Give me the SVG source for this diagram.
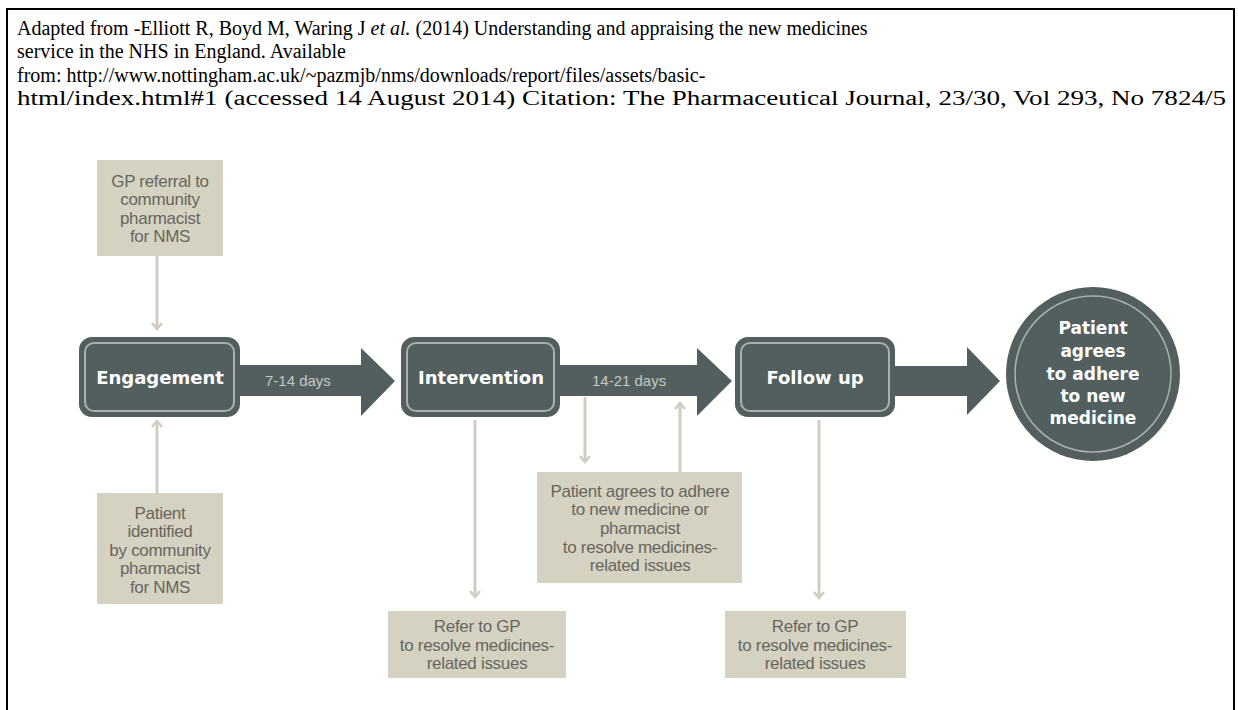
<svg xmlns="http://www.w3.org/2000/svg" width="1238" height="710" viewBox="0 0 1238 710">
<defs>
<style>
.cite{font-family:"Liberation Serif","Times New Roman",serif;font-size:20px;fill:#000}
.stage{fill:#535f5f}
.inner{fill:none;stroke:#a9b0ae;stroke-width:2}
.big{font-family:"DejaVu Sans",sans-serif;font-weight:bold;font-size:18px;fill:#fff;text-anchor:middle}
.circ{font-family:"DejaVu Sans",sans-serif;font-weight:bold;font-size:17px;fill:#fff;text-anchor:middle}
.note{fill:#d6d2c2}
.nt{font-family:"Liberation Sans",Arial,sans-serif;font-size:17px;fill:#66665e;text-anchor:middle;letter-spacing:-0.3px}
.days{font-family:"Liberation Sans",Arial,sans-serif;font-size:15px;fill:#c3c8c7}
.conn{fill:none;stroke:#cfcdc0;stroke-width:3}
.arr{fill:#535f5f}
</style>
<marker id="chev" viewBox="0 0 10 12" refX="8" refY="6" markerWidth="10" markerHeight="12" markerUnits="userSpaceOnUse" orient="auto-start-reverse">
<path d="M2,1 L8,6 L2,11" fill="none" stroke="#cfcdc0" stroke-width="2.5"/>
</marker>
</defs>
<rect width="1238" height="710" fill="#fff"/>
<path d="M7,720 V9 H1234 V720" fill="none" stroke="#000" stroke-width="2"/>
<g id="citation">
<text class="cite" x="17" y="35">Adapted from -Elliott R, Boyd M, Waring J <tspan font-style="italic">et al.</tspan> (2014) Understanding and appraising the new medicines</text>
<text class="cite" x="17" y="58">service in the NHS in England. Available</text>
<text class="cite" x="17" y="82">from: http://www.nottingham.ac.uk/~pazmjb/nms/downloads/report/files/assets/basic-</text>
<text class="cite" x="17" y="105" textLength="1209" lengthAdjust="spacingAndGlyphs">html/index.html#1 (accessed 14 August 2014) Citation: The Pharmaceutical Journal, 23/30, Vol 293, No 7824/5</text>
</g>
<g id="connectors">
<path class="conn" d="M157,256 V329" marker-end="url(#chev)"/>
<path class="conn" d="M157,493 V421" marker-end="url(#chev)"/>
<path class="conn" d="M475,420 V597" marker-end="url(#chev)"/>
<path class="conn" d="M585,397 V462" marker-end="url(#chev)"/>
<path class="conn" d="M680,472 V403" marker-end="url(#chev)"/>
<path class="conn" d="M819,420 V598" marker-end="url(#chev)"/>
<g id="arrow1"><path class="arr" d="M240,365 H361 V348 L395,381 L361,416 V396 H240 Z"/><text class="days" x="265" y="386">7-14 days</text></g>
<g id="arrow2"><path class="arr" d="M560,365 H697 V348 L732,381 L697,416 V396 H560 Z"/><text class="days" x="592" y="386">14-21 days</text></g>
<g id="arrow3"><path class="arr" d="M895,366 H967 V347 L1000,381 L967,415 V396 H895 Z"/></g>
</g>
<g id="gp-referral">
<rect class="note" x="97" y="160" width="126" height="96"/>
<text class="nt" x="160" y="187">GP referral to</text>
<text class="nt" x="160" y="205">community</text>
<text class="nt" x="160" y="224">pharmacist</text>
<text class="nt" x="160" y="242">for NMS</text>
</g>
<g id="engagement">
<rect class="stage" x="79" y="337" width="161" height="80" rx="13"/>
<rect class="inner" x="85" y="343" width="149" height="68" rx="9"/>
<text class="big" x="160" y="384">Engagement</text>
</g>
<g id="intervention">
<rect class="stage" x="401" y="337" width="159" height="80" rx="13"/>
<rect class="inner" x="407" y="343" width="147" height="68" rx="9"/>
<text class="big" x="481" y="384">Intervention</text>
</g>
<g id="follow-up">
<rect class="stage" x="735" y="337" width="160" height="80" rx="13"/>
<rect class="inner" x="741" y="343" width="148" height="68" rx="9"/>
<text class="big" x="815" y="384">Follow up</text>
</g>
<g id="outcome">
<circle class="stage" cx="1093" cy="374" r="87"/>
<circle cx="1093" cy="374" r="78" fill="none" stroke="#a9b0ae" stroke-width="1.5"/>
<text class="circ" x="1093" y="334">Patient</text>
<text class="circ" x="1093" y="357">agrees</text>
<text class="circ" x="1093" y="380">to adhere</text>
<text class="circ" x="1093" y="402">to new</text>
<text class="circ" x="1093" y="424">medicine</text>
</g>
<g id="patient-identified">
<rect class="note" x="97" y="493" width="126" height="111"/>
<text class="nt" x="160" y="519">Patient</text>
<text class="nt" x="160" y="537">identified</text>
<text class="nt" x="160" y="556">by community</text>
<text class="nt" x="160" y="574">pharmacist</text>
<text class="nt" x="160" y="593">for NMS</text>
</g>
<g id="patient-agrees">
<rect class="note" x="537" y="472" width="205" height="111"/>
<text class="nt" x="640" y="497">Patient agrees to adhere</text>
<text class="nt" x="640" y="515">to new medicine or</text>
<text class="nt" x="640" y="534">pharmacist</text>
<text class="nt" x="640" y="553">to resolve medicines-</text>
<text class="nt" x="640" y="571">related issues</text>
</g>
<g id="refer-gp-1">
<rect class="note" x="388" y="611" width="178" height="67"/>
<text class="nt" x="477" y="632">Refer to GP</text>
<text class="nt" x="477" y="651">to resolve medicines-</text>
<text class="nt" x="477" y="669">related issues</text>
</g>
<g id="refer-gp-2">
<rect class="note" x="725" y="611" width="181" height="67"/>
<text class="nt" x="815" y="632">Refer to GP</text>
<text class="nt" x="815" y="651">to resolve medicines-</text>
<text class="nt" x="815" y="669">related issues</text>
</g>
</svg>
